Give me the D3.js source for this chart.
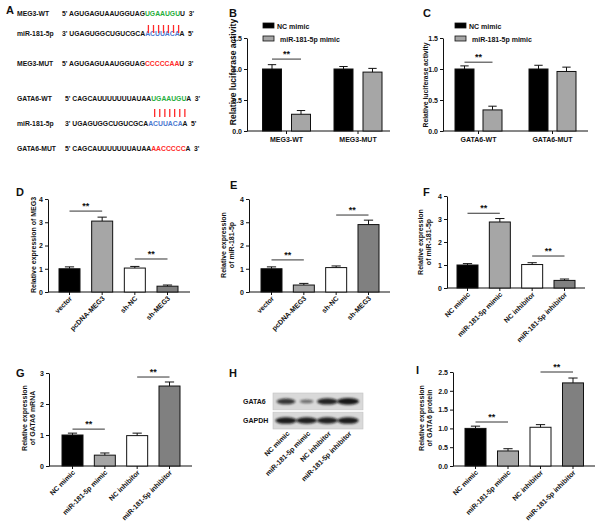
<!DOCTYPE html>
<html><head><meta charset="utf-8">
<script src="https://cdn.jsdelivr.net/npm/d3@7"></script>
<style>
body{margin:0;background:#fff}
svg{display:block}
text{font-family:"Liberation Sans",Arial,sans-serif;font-weight:bold;fill:#111}
</style>
</head><body>
<svg id="c" width="600" height="528"></svg>
<script>
// ---------- DATA ----------
const seqLabels = ["MEG3-WT","miR-181-5p","MEG3-MUT","GATA6-WT","miR-181-5p","GATA6-MUT"];
const seqStartPrime = ["5'","3'","5'","5'","3'","5'"];
const seqEndPrime = ["3'","5'","3'","3'","5'","3'"];
const seqHead = ["AGUGAGUAAUGGUAG","UGAGUGGCUGUCGCA","AGUGAGUAAUGGUAG","CAGCAUUUUUUUAUAA","UGAGUGGCUGUCGCA","CAGCAUUUUUUUAUAA"];
const seqSite = ["UGAAUGU","ACUUACA","CCCCCAA","UGAAUGU","ACUUACA","AACCCCC"];
const seqTail = ["U","A","U","A","A","A"];
const seqSiteKind = ["seed","mir","mut","seed","mir","mut"];

const lucGroupsB = ["MEG3-WT","MEG3-MUT"];
const lucSeries = ["NC mimic","miR-181-5p mimic"];
const lucB_nc = [1.00, 1.00], lucB_ncErr = [0.07, 0.04];
const lucB_mim = [0.27, 0.95], lucB_mimErr = [0.06, 0.06];

const lucGroupsC = ["GATA6-WT","GATA6-MUT"];
const lucC_nc = [1.00, 1.00], lucC_ncErr = [0.05, 0.06];
const lucC_mim = [0.34, 0.96], lucC_mimErr = [0.06, 0.07];

const megCats = ["vector","pcDNA-MEG3","sh-NC","sh-MEG3"];
const meg3Expr = [1.00, 3.05, 1.03, 0.25], meg3Err = [0.08, 0.17, 0.07, 0.05];
const mirExprE = [1.00, 0.30, 1.05, 2.90], mirErrE = [0.08, 0.07, 0.07, 0.19];

const mimCats = ["NC mimic","miR-181-5p mimic","NC inhibitor","miR-181-5p inhibitor"];
const mirExprF = [1.00, 2.87, 1.02, 0.33], mirErrF = [0.06, 0.15, 0.08, 0.06];
const gataMrna = [1.00, 0.35, 0.98, 2.58], gataMrnaErr = [0.06, 0.07, 0.08, 0.13];
const gataProt = [1.00, 0.40, 1.03, 2.21], gataProtErr = [0.06, 0.06, 0.07, 0.13];

const blotRows = ["GATA6","GAPDH"];
const blotGata6 = [0.75, 0.30, 0.90, 1.00];
const blotGapdh = [0.95, 0.93, 0.92, 0.95];

const ticks4 = [0,1,2,3,4], ticks3 = [0,1,2,3], ticks15 = [0,0.5,1.0,1.5], ticks25 = [0,0.5,1.0,1.5,2.0,2.5];

// ---------- DRAW ----------
const svg = d3.select("#c");
const COL4 = ["#000000","#a6a6a6","#ffffff","#808080"];
const GREEN = "#1fae3c", BLUE = "#4a78d0", RED = "#ff2a2a";

function letter(t, x, y){ svg.append("text").attr("x",x).attr("y",y).attr("font-size",11).text(t); }

// Panel A
letter("A", 6, 14);
const rowY = [16, 36, 66, 101, 126, 151];
const siteColor = {seed:GREEN, mir:BLUE, mut:RED};
const rowTexts = [];
seqLabels.forEach((lab,i)=>{
  svg.append("text").attr("x",17).attr("y",rowY[i]).attr("font-size",6.8).text(lab);
  const px = (i>=3) ? 65 : 62;
  const t = svg.append("text").attr("x",px).attr("y",rowY[i]).attr("font-size",6.8)
    .attr("xml:space","preserve");
  t.append("tspan").text(seqStartPrime[i]+" "+seqHead[i]);
  t.append("tspan").attr("fill",siteColor[seqSiteKind[i]]).style("fill",siteColor[seqSiteKind[i]]).text(seqSite[i]);
  t.append("tspan").text(seqTail[i]+"  "+seqEndPrime[i]);
  rowTexts.push(t);
});
// pairing bars above the miR rows
[[0,25,33],[3,109,117]].forEach(([ri,y1,y2])=>{
  const node = rowTexts[ri].node();
  const start = (seqStartPrime[ri]+" "+seqHead[ri]).length;
  d3.range(seqSite[ri].length).forEach(k=>{
    const a = node.getStartPositionOfChar(start+k).x, b = node.getEndPositionOfChar(start+k).x;
    const cx = (a+b)/2 + 1;
    svg.append("line").attr("x1",cx).attr("x2",cx).attr("y1",y1).attr("y2",y2)
      .attr("stroke",RED).attr("stroke-width",1.3);
  });
});

function yAxis(g, y, ax, ticks, fmt){
  const a = d3.axisLeft(y).tickValues(ticks).tickSize(3).tickSizeOuter(0).tickPadding(2).tickFormat(fmt);
  const gg = g.append("g").attr("transform",`translate(${ax},0)`).call(a);
  gg.selectAll("text").attr("font-size",7).style("font-family",'"Liberation Sans",Arial,sans-serif').style("font-weight","bold").attr("fill","#111");
  gg.selectAll("line,path").attr("stroke","#111").attr("stroke-width",1);
}
function yLabel(g, lines, x, yc, fs){
  const t = g.append("text").attr("transform",`translate(${x},${yc}) rotate(-90)`).attr("text-anchor","middle").attr("font-size",fs);
  lines.forEach((l,i)=> t.append("tspan").attr("x",0).attr("dy", i===0 ? (-(lines.length-1)*fs*0.55) : fs*1.1).text(l));
}
function drawBar(g, xc, w, y, v, e, fill){
  g.append("rect").attr("x",xc-w/2).attr("y",y(v)).attr("width",w).attr("height",y(0)-y(v))
    .attr("fill",fill).attr("stroke","#111").attr("stroke-width",1);
  g.append("line").attr("x1",xc).attr("x2",xc).attr("y1",y(v)).attr("y2",y(v+e)).attr("stroke","#111");
  g.append("line").attr("x1",xc-w*0.22).attr("x2",xc+w*0.22).attr("y1",y(v+e)).attr("y2",y(v+e)).attr("stroke","#111");
}
function sig(g, x1, x2, yy){
  g.append("line").attr("x1",x1).attr("x2",x2).attr("y1",yy).attr("y2",yy).attr("stroke","#333").attr("stroke-width",1);
  g.append("text").attr("x",(x1+x2)/2).attr("y",yy-2).attr("text-anchor","middle").attr("font-size",9).attr("fill","#333").text("**");
}

// grouped luciferase panels
function lucPanel(o){
  const g = svg.append("g");
  letter(o.letter, o.lx, o.ly);
  const y = d3.scaleLinear().domain([0,1.5]).range([131,38]);
  const x = d3.scalePoint().domain(o.groups).range(o.gr);
  const off = d3.scalePoint().domain(lucSeries).range([-o.off, o.off]);
  yAxis(g, y, o.ax, ticks15, d3.format(".1f"));
  g.append("line").attr("x1",o.ax).attr("x2",o.axEnd).attr("y1",131).attr("y2",131).attr("stroke","#111");
  o.groups.forEach((gr,i)=>{
    g.append("line").attr("x1",x(gr)).attr("x2",x(gr)).attr("y1",131).attr("y2",134).attr("stroke","#111");
    g.append("text").attr("x",x(gr)).attr("y",142).attr("text-anchor","middle").attr("font-size",7).text(gr);
    drawBar(g, x(gr)+off(lucSeries[0]), 19, y, o.nc[i], o.ncErr[i], "#000");
    drawBar(g, x(gr)+off(lucSeries[1]), 19, y, o.mim[i], o.mimErr[i], "#a6a6a6");
  });
  sig(g, x(o.groups[0])+off(lucSeries[0]), x(o.groups[0])+off(lucSeries[1]), y(o.sigLevel));
  yLabel(g, ["Relative luciferase activity"], o.ylx, o.ylc, o.ylfs);
  // legend
  lucSeries.forEach((s,i)=>{
    g.append("rect").attr("x",o.legX).attr("y",23+i*13).attr("width",11).attr("height",5)
      .attr("fill", i===0?"#000":"#a6a6a6").attr("stroke","#111").attr("stroke-width",0.8);
    g.append("text").attr("x",o.legX+14+i*3).attr("y",29+i*13).attr("font-size",7).text(s);
  });
}
lucPanel({letter:"B", lx:229, ly:17, groups:lucGroupsB, gr:[286.5,358], off:14.5, ax:247, axEnd:390,
  nc:lucB_nc, ncErr:lucB_ncErr, mim:lucB_mim, mimErr:lucB_mimErr, sigLevel:1.16, ylx:236, ylc:72, ylfs:8.5, legX:263});
lucPanel({letter:"C", lx:423, ly:17, groups:lucGroupsC, gr:[478.5,552.5], off:14, ax:443, axEnd:588,
  nc:lucC_nc, ncErr:lucC_ncErr, mim:lucC_mim, mimErr:lucC_mimErr, sigLevel:1.11, ylx:428, ylc:85, ylfs:6.8, legX:455});

// four-bar panels
function quadPanel(o){
  const g = svg.append("g");
  letter(o.letter, o.lx, o.ly);
  const y = d3.scaleLinear().domain(o.domain).range([o.y0,o.y1]);
  const x = d3.scalePoint().domain(o.cats).range(o.cr);
  yAxis(g, y, o.ax, o.ticks, o.fmt);
  g.append("line").attr("x1",o.ax).attr("x2",o.axEnd).attr("y1",o.y0).attr("y2",o.y0).attr("stroke","#111");
  o.cats.forEach((c,i)=>{
    g.append("line").attr("x1",x(c)).attr("x2",x(c)).attr("y1",o.y0).attr("y2",o.y0+3).attr("stroke","#111");
    g.append("text").attr("transform",`translate(${x(c)+3},${o.y0+7}) rotate(-45)`).attr("text-anchor","end").attr("font-size",7).text(c);
    drawBar(g, x(c), 21, y, o.vals[i], o.errs[i], COL4[i]);
  });
  o.sigs.forEach(([a,b,lv])=> sig(g, x(o.cats[a]), x(o.cats[b]), y(lv)));
  yLabel(g, o.ylab, o.ylx, o.ylc, 7);
}
quadPanel({letter:"D", lx:16, ly:196, domain:[0,4], y0:292, y1:199, ticks:ticks4, fmt:d3.format("d"),
  cats:megCats, cr:[69.5,167.5], ax:48, axEnd:190, vals:meg3Expr, errs:meg3Err,
  sigs:[[0,1,3.48],[2,3,1.42]], ylab:["Relative expression of MEG3"], ylx:36, ylc:245});
quadPanel({letter:"E", lx:230, ly:189, domain:[0,4], y0:292, y1:199, ticks:ticks4, fmt:d3.format("d"),
  cats:megCats, cr:[271.5,368.5], ax:249, axEnd:390, vals:mirExprE, errs:mirErrE,
  sigs:[[0,1,1.38],[2,3,3.31]], ylab:["Relative expression","of miR-181-5p"], ylx:230, ylc:245});
quadPanel({letter:"F", lx:423, ly:196, domain:[0,4], y0:288, y1:196, ticks:ticks4, fmt:d3.format("d"),
  cats:mimCats, cr:[467.5,564.5], ax:447, axEnd:585, vals:mirExprF, errs:mirErrF,
  sigs:[[0,1,3.25],[2,3,1.39]], ylab:["Relative expression","of miR-181-5p"], ylx:427, ylc:242});
quadPanel({letter:"G", lx:16, ly:377, domain:[0,3], y0:466, y1:373, ticks:ticks3, fmt:d3.format("d"),
  cats:mimCats, cr:[72.5,169.5], ax:49, axEnd:192, vals:gataMrna, errs:gataMrnaErr,
  sigs:[[0,1,1.19],[2,3,2.87]], ylab:["Relative expression","of GATA6 mRNA"], ylx:31, ylc:418});
quadPanel({letter:"I", lx:416, ly:374, domain:[0,2.5], y0:466, y1:372, ticks:ticks25, fmt:d3.format(".1f"),
  cats:mimCats, cr:[475.5,573], ax:453, axEnd:595, vals:gataProt, errs:gataProtErr,
  sigs:[[0,1,1.17],[2,3,2.5]], ylab:["Relative expression","of GATA6 protein"], ylx:428, ylc:418});

// Panel H: western blot
letter("H", 229, 377);
const defs = svg.append("defs");
defs.append("filter").attr("id","blur").attr("x","-50%").attr("y","-100%").attr("width","200%").attr("height","300%")
  .append("feGaussianBlur").attr("stdDeviation",0.9);
const lane = d3.scalePoint().domain(mimCats).range([286,348]);
const rowBand = d3.scaleBand().domain(blotRows).range([393,429]).paddingInner(0.12);
const bw = d3.scaleLinear().domain([0,1]).range([5,11]);
const bh = d3.scaleLinear().domain([0,1]).range([1.2,3.4]);
[blotGata6, blotGapdh].forEach((vals,ri)=>{
  const r = blotRows[ri];
  const y0 = rowBand(r), h = rowBand.bandwidth();
  svg.append("rect").attr("x",273).attr("y",y0).attr("width",90).attr("height",h).attr("fill","#d9d9d9").attr("stroke","#c4c4c4").attr("stroke-width",0.6);
  svg.append("text").attr("x",243).attr("y",y0+h/2+2.5).attr("font-size",7).text(r);
  vals.forEach((v,i)=>{
    svg.append("ellipse").attr("cx",lane(mimCats[i])).attr("cy",y0+h/2).attr("rx",bw(v)).attr("ry",bh(v))
      .attr("fill","#111").attr("opacity",0.35+0.6*v).attr("filter","url(#blur)");
  });
});
mimCats.forEach(c=>{
  svg.append("text").attr("transform",`translate(${lane(c)+4},${434}) rotate(-45)`).attr("text-anchor","end").attr("font-size",7).text(c);
});
</script>
</body></html>
